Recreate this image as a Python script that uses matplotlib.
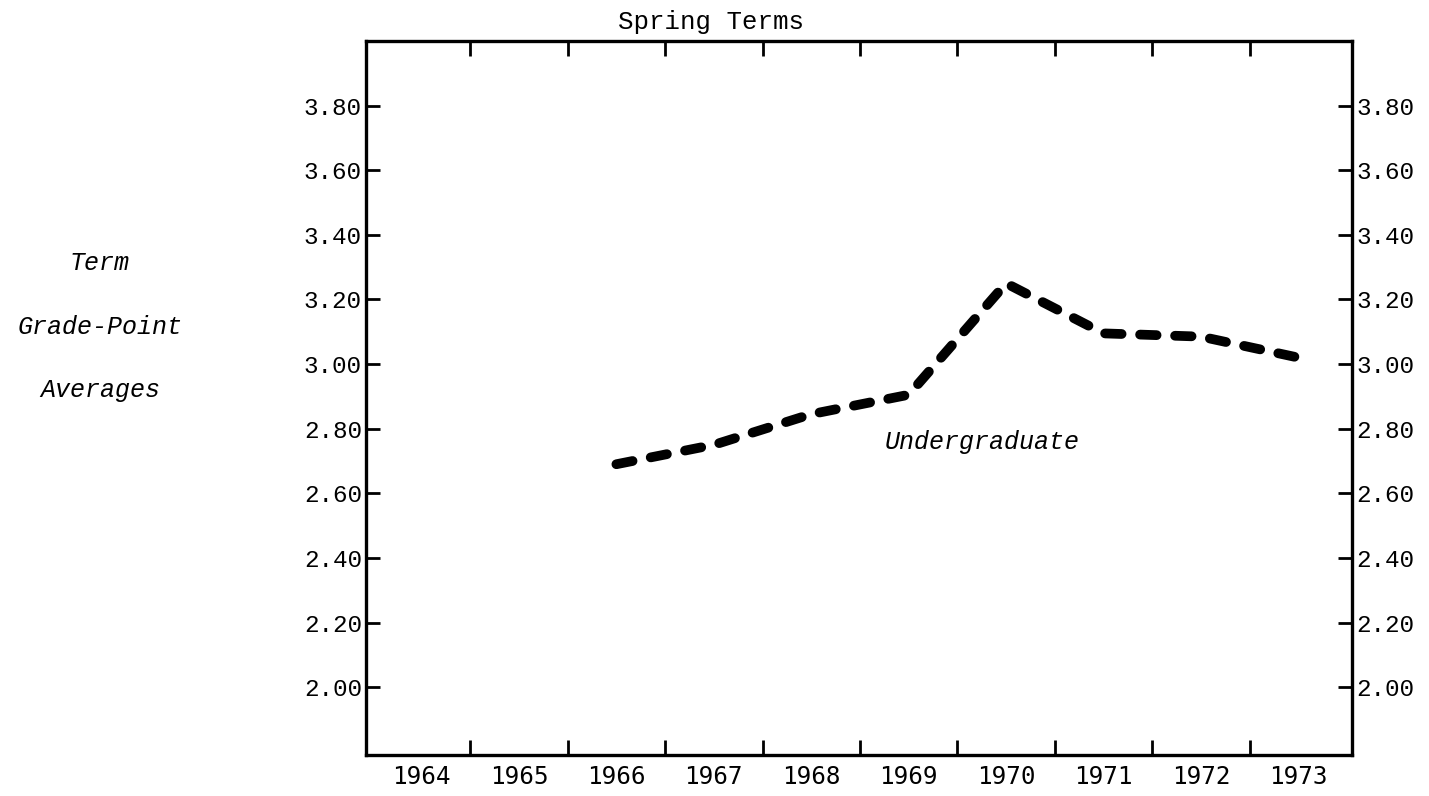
import matplotlib

matplotlib.use("Agg")
import matplotlib.pyplot as plt

# spring-term undergraduate grade-point averages
years = [1966, 1967, 1968, 1969, 1970, 1971, 1972, 1973]
gpa = [2.69, 2.75, 2.845, 2.905, 3.25, 3.095, 3.085, 3.02]

year_labels = [str(y) for y in range(1964, 1974)]
y_ticks = [2.00, 2.20, 2.40, 2.60, 2.80, 3.00, 3.20, 3.40, 3.60, 3.80]

mono = "Liberation Mono"

fig = plt.figure(figsize=(14.29, 7.96), dpi=100)
ax = fig.add_axes([0.2561, 0.0515, 0.690, 0.897])

lw = 7
ax.plot(years, gpa, color="black", lw=lw, dashes=(1.7, 1.9),
        dash_capstyle="round", solid_joinstyle="round")

ax.set_xlim(1963.43, 1973.55)
ax.set_ylim(1.79, 4.0)

# year boundaries as ticks, labels centred on each year
ax.set_xticks([y + 0.5 for y in range(1964, 1973)])
ax.set_xticklabels([])
ax.set_xticks(list(range(1964, 1974)), minor=True)
ax.set_xticklabels(year_labels, minor=True, fontfamily="DejaVu Sans Mono", fontsize=17.5)
ax.tick_params(axis="x", which="major", direction="in", length=11, width=2,
               top=True, bottom=True)
ax.tick_params(axis="x", which="minor", length=0, pad=7)

ax.set_yticks(y_ticks)
ax.set_yticklabels([f"{v:.2f}" for v in y_ticks], fontfamily=mono, fontsize=17.5)
ax.tick_params(axis="y", direction="in", length=10, width=2, pad=3,
               left=True, right=True, labelleft=True, labelright=True)

for s in ax.spines.values():
    s.set_linewidth(2.4)

fig.text(0.4976, 0.972, "Spring Terms", ha="center", va="center",
         fontfamily=mono, fontsize=18.5)

for txt, yy in [("Term", 263), ("Grade-Point", 327), ("Averages", 390)]:
    fig.text(100 / 1429, 1 - yy / 796, txt, ha="center", va="center",
             fontfamily=mono, fontstyle="italic", fontsize=18)

ax.text(1969.75, 2.76, "Undergraduate", ha="center", va="center",
        fontfamily=mono, fontstyle="italic", fontsize=18)

fig.savefig("out.png", dpi=100)
